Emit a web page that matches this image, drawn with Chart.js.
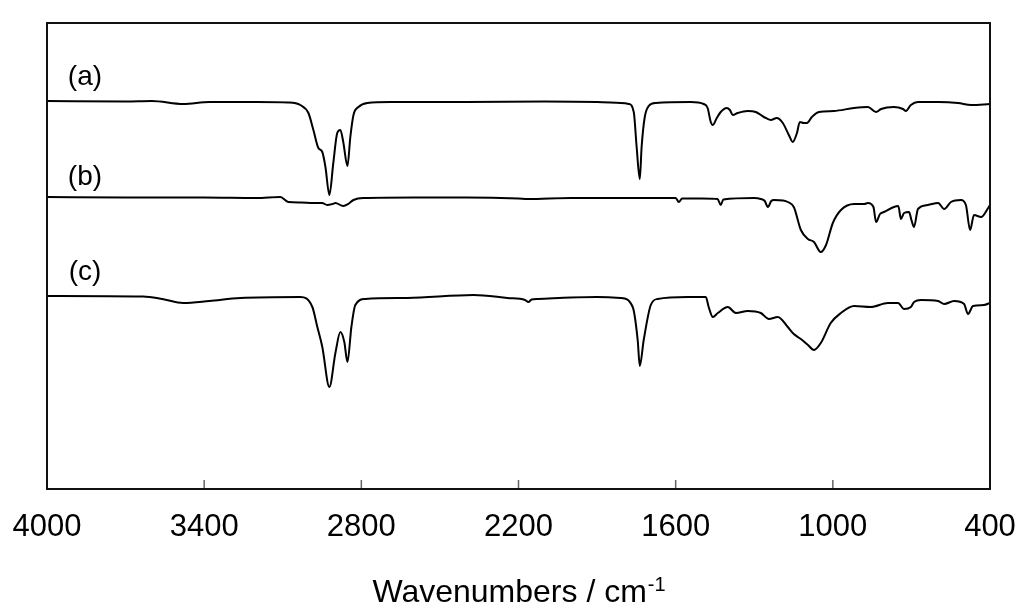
<!DOCTYPE html>
<html>
<head>
<meta charset="utf-8">
<script src="https://cdn.jsdelivr.net/npm/chart.js@4.4.1/dist/chart.umd.min.js"></script>
<style>
  html, body { margin: 0; padding: 0; background: #fff; }
  #wrap { width: 1024px; height: 613px; }
</style>
</head>
<body>
<div id="wrap"><canvas id="irChart" width="1024" height="613"></canvas></div>
<script>
// wavenumber ticks (cm-1), axis runs high -> low
const xTicks = [4000, 3400, 2800, 2200, 1600, 1000, 400];

// spectrum (a) - offset transmittance, arbitrary units
const waveA = [4000, 3700, 3600, 3480, 3380, 3200, 3080, 3033, 3002, 2983, 2964, 2949, 2937, 2922, 2907, 2892, 2880, 2869, 2853, 2842, 2830, 2811, 2777, 2689, 2400, 2100, 1900, 1810, 1779, 1760, 1749, 1737, 1730, 1718, 1703, 1676, 1542, 1493, 1478, 1466, 1458, 1443, 1428, 1405, 1393, 1382, 1363, 1325, 1294, 1263, 1237, 1214, 1191, 1168, 1153, 1137, 1126, 1111, 1099, 1080, 1053, 996, 919, 866, 835, 816, 767, 732, 721, 702, 675, 598, 522, 472, 400];
const specA = [388, 387.5, 388, 385, 387, 387, 386.5, 384, 376, 359, 341, 337, 322, 294, 326, 356, 359, 347, 323, 352, 374, 382, 386, 387, 387, 387.5, 387, 386, 385, 377, 342, 310, 342, 372, 383, 386, 387, 385, 381, 367, 364, 371, 377, 381, 379, 374, 376, 378, 377, 372, 369, 371, 366, 354, 347, 356, 367, 366, 366, 372, 377, 378, 381, 382, 377, 380, 382, 380, 378, 384, 387, 387, 386, 384, 385];

// spectrum (b)
const waveB = [4000, 3700, 3400, 3200, 3109, 3079, 3030, 2983, 2950, 2930, 2910, 2899, 2869, 2850, 2830, 2792, 2600, 2400, 2200, 2165, 2000, 1800, 1600, 1588, 1575, 1500, 1440, 1428, 1418, 1300, 1275, 1260, 1248, 1235, 1225, 1190, 1172, 1149, 1122, 1095, 1072, 1046, 1026, 1000, 969, 919, 880, 866, 845, 835, 820, 805, 767, 750, 740, 728, 709, 700, 690, 675, 637, 598, 575, 549, 511, 492, 476, 461, 434, 407, 400];
const specB = [292, 291.5, 291.5, 291, 292, 287, 286.5, 286, 286, 284, 285, 286, 283, 285, 289, 291, 291.5, 291.5, 290.5, 290, 291, 291, 291, 287, 290.5, 290.5, 290, 284, 289.5, 291, 290, 288, 282, 288, 289, 288.5, 287, 282, 259, 250, 247, 237, 244, 266, 279, 285, 285, 286, 282, 267, 275, 277, 282, 283, 270, 276, 277, 269, 262, 280, 284, 286, 280, 287, 289, 284, 259, 274, 272, 281, 284];

// spectrum (c)
const waveC = [4000, 3633, 3560, 3480, 3380, 3262, 3033, 2987, 2968, 2949, 2922, 2899, 2880, 2865, 2853, 2838, 2823, 2785, 2624, 2372, 2242, 2175, 2162, 2150, 2127, 2000, 1900, 1810, 1764, 1745, 1737, 1722, 1695, 1669, 1554, 1485, 1474, 1458, 1439, 1401, 1370, 1325, 1275, 1244, 1210, 1172, 1149, 1122, 1095, 1072, 1046, 1008, 969, 919, 855, 790, 751, 728, 702, 690, 663, 598, 575, 537, 499, 484, 465, 423, 400];
const specC = [193, 192.5, 190, 186, 188, 191, 192, 182, 162, 142, 102, 136, 157, 147, 127, 162, 184, 190, 191, 194, 191, 189, 187, 189.5, 190, 191.5, 192, 191, 182, 149, 123, 149, 184, 190, 192, 192, 182, 172, 176, 182, 176, 178, 176, 170, 172, 162, 155, 150, 144, 139, 146, 166, 176, 183, 182, 186, 186, 180, 182, 187, 189, 188, 185, 188, 185, 175, 183, 184, 186];

// curve labels, placed in data coordinates
const curveNames = ['(a)', '(b)', '(c)'];
const curveNameX = [3855, 3855, 3855];
const curveNameY = [412, 312, 217];

const FONT = "Arial, 'Liberation Sans', sans-serif";

function toPoints(xs, ys) {
  return xs.map((w, i) => ({ x: w, y: ys[i] }));
}

function lineSet(label, xs, ys) {
  return {
    label: label,
    data: toPoints(xs, ys),
    borderColor: '#000',
    borderWidth: 2,
    pointRadius: 0,
    fill: false,
    cubicInterpolationMode: 'monotone'
  };
}

// box, inward ticks, curve labels and the axis title
const framePlugin = {
  id: 'frame',
  afterDraw(chart) {
    const { ctx, chartArea: a, scales: { x, y } } = chart;
    ctx.save();

    ctx.strokeStyle = '#666';
    ctx.lineWidth = 1.5;
    xTicks.forEach(v => {
      const px = x.getPixelForValue(v);
      ctx.beginPath();
      ctx.moveTo(px, a.bottom);
      ctx.lineTo(px, a.bottom - 9);
      ctx.stroke();
    });

    ctx.strokeStyle = '#111';
    ctx.lineWidth = 2;
    ctx.strokeRect(a.left, a.top, a.right - a.left, a.bottom - a.top);

    ctx.fillStyle = '#000';
    ctx.font = '28px ' + FONT;
    ctx.textAlign = 'center';
    ctx.textBaseline = 'middle';
    curveNames.forEach((name, i) => {
      ctx.fillText(name, x.getPixelForValue(curveNameX[i]), y.getPixelForValue(curveNameY[i]));
    });

    // x axis title with superscript
    const main = 'Wavenumbers / cm';
    const sup = '-1';
    ctx.textAlign = 'left';
    ctx.textBaseline = 'alphabetic';
    ctx.font = '32px ' + FONT;
    const wMain = ctx.measureText(main).width;
    ctx.font = '20px ' + FONT;
    const wSup = ctx.measureText(sup).width;
    const x0 = (a.left + a.right) / 2 - (wMain + wSup) / 2;
    const base = a.bottom + 113;
    ctx.font = '32px ' + FONT;
    ctx.fillText(main, x0, base);
    ctx.font = '20px ' + FONT;
    ctx.fillText(sup, x0 + wMain + 1, base - 11);

    ctx.restore();
  }
};

const chart = new Chart(document.getElementById('irChart').getContext('2d'), {
  type: 'line',
  data: {
    datasets: [
      lineSet('(a)', waveA, specA),
      lineSet('(b)', waveB, specB),
      lineSet('(c)', waveC, specC)
    ]
  },
  options: {
    responsive: false,
    animation: false,
    layout: {
      padding: { left: 47, right: 34, top: 23, bottom: 67 }
    },
    plugins: {
      legend: { display: false },
      tooltip: { enabled: false }
    },
    scales: {
      x: {
        type: 'linear',
        reverse: true,
        min: 400,
        max: 4000,
        afterBuildTicks: axis => {
          axis.ticks = xTicks.map(v => ({ value: v }));
        },
        afterFit: axis => {
          // tick labels may overhang the plot edges, like the original
          axis.paddingLeft = 0;
          axis.paddingRight = 0;
          axis.height = 57;
        },
        grid: { display: false, drawTicks: false },
        border: { display: false },
        ticks: {
          padding: 20,
          maxRotation: 0,
          autoSkip: false,
          color: '#000',
          font: { family: FONT, size: 31, lineHeight: 1.2 },
          callback: v => String(v)
        }
      },
      y: {
        display: false,
        min: 0,
        max: 466
      }
    }
  },
  plugins: [framePlugin]
});
</script>
</body>
</html>
